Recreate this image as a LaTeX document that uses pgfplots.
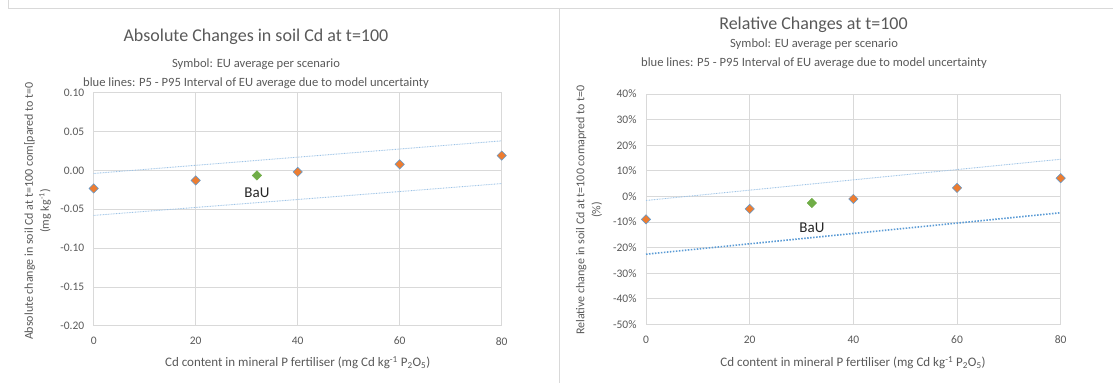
\documentclass[border=0pt]{standalone}
\usepackage{pgfplots}
\pgfplotsset{compat=1.18}
\usepackage{fontspec}
\setmainfont{Carlito}
\definecolor{txt}{HTML}{595959}
\definecolor{gridc}{HTML}{D9D9D9}
\definecolor{axc}{HTML}{BFBFBF}
\definecolor{orng}{HTML}{ED7D31}
\definecolor{bluem}{HTML}{5B9BD5}
\definecolor{bluel}{HTML}{9DC3E6}
\definecolor{grn}{HTML}{70AD47}
\pgfplotsset{
  common/.style={
    scale only axis, anchor=south west,
    xmin=0, xmax=80, xtick={0,20,...,80},
    grid=major, major grid style={gridc, line width=0.6pt},
    axis line style={gridc, line width=0.6pt},
    major tick length=0pt,
    tick label style={font=\fontsize{11.5}{13}\selectfont, text=txt},
    /pgf/number format/assume math mode=true,
    xticklabel style={yshift=-8pt},
    yticklabel style={xshift=-6pt},
    clip=false,
  },
  pts/.style={only marks, mark=square*, mark size=3.3pt, mark options={rotate=45, fill=orng, draw=bluem, line width=0.5pt}},
  bau/.style={only marks, mark=square*, mark size=3.3pt, mark options={rotate=45, fill=grn, draw=grn, line width=0.5pt}},
}
\begin{document}
\begin{tikzpicture}
\path[use as bounding box] (0pt,0pt) rectangle (1113pt,383pt);
\draw[gridc, line width=0.8pt] (8pt,383pt) -- (8pt,374.7pt) -- (1113pt,374.7pt);
\draw[gridc, line width=1.2pt] (559.3pt,374.7pt) -- (559.3pt,0pt);
% left panel
\node[text=txt, font=\fontsize{18}{20}\selectfont] at (256pt,346pt) {Absolute Changes in soil Cd at t=100};
\node[text=txt, font=\fontsize{12.6}{15}\selectfont] at (256pt,319pt) {Symbol: EU average per scenario};
\node[text=txt, font=\fontsize{12.6}{15}\selectfont] at (256pt,300pt) {blue lines: P5 - P95 Interval of EU average due to model uncertainty};
\node[text=txt, font=\fontsize{12}{16}\selectfont, rotate=90, align=center] at (37.5pt,172pt) {Absolute change in soil Cd at t=100 com[pared to t=0\\(mg kg\textsuperscript{-1})};
\node[text=txt, font=\fontsize{13}{15}\selectfont] at (297.7pt,20pt) {Cd content in mineral P fertiliser (mg Cd kg\textsuperscript{-1} P\textsubscript{2}O\textsubscript{5})};
\begin{axis}[common, at={(93.7pt,57.3pt)}, width=408pt, height=233pt,
  ymin=-0.2, ymax=0.1, ytick={-0.2,-0.15,...,0.1},
  yticklabel style={/pgf/number format/fixed, /pgf/number format/fixed zerofill, /pgf/number format/precision=2},
  ]
\addplot[bluel, line width=0.9pt, dash pattern=on 0.8pt off 0.8pt] coordinates {(0,-0.004) (80,0.038)};
\addplot[bluel, line width=0.9pt, dash pattern=on 0.8pt off 0.8pt] coordinates {(0,-0.058) (80,-0.017)};
\addplot[pts] coordinates {(0,-0.0233) (20,-0.013) (40,-0.002) (60,0.0078) (80,0.019)};
\addplot[bau] coordinates {(32,-0.0065)};
\node[font=\fontsize{15}{17}\selectfont, text=black!85] at (axis cs:32,-0.029) {BaU};
\end{axis}
% right panel
\node[text=txt, font=\fontsize{18}{20}\selectfont] at (813.5pt,358pt) {Relative Changes at t=100};
\node[text=txt, font=\fontsize{12.6}{15}\selectfont] at (814pt,339pt) {Symbol: EU average per scenario};
\node[text=txt, font=\fontsize{12.6}{15}\selectfont] at (814pt,320pt) {blue lines: P5 - P95 Interval of EU average due to model uncertainty};
\node[text=txt, font=\fontsize{12}{16}\selectfont, rotate=90, align=center] at (589pt,173pt) {Relative change in soil Cd at t=100 comapred to t=0\\(\%)};
\node[text=txt, font=\fontsize{13}{15}\selectfont] at (853pt,20pt) {Cd content in mineral P fertiliser (mg Cd kg\textsuperscript{-1} P\textsubscript{2}O\textsubscript{5})};
\begin{axis}[common, at={(646pt,58.7pt)}, width=414.7pt, height=230.3pt,
  ymin=-50, ymax=40, ytick={-50,-40,...,40},
  yticklabel={\pgfmathprintnumber{\tick}\%},
  ]
\addplot[bluel, line width=0.9pt, dash pattern=on 0.8pt off 0.8pt] coordinates {(0,-1.6) (80,14.5)};
\addplot[bluem, line width=1.6pt, dash pattern=on 1.5pt off 1.5pt] coordinates {(0,-22.6) (80,-6.4)};
\addplot[pts] coordinates {(0,-9.0) (20,-4.9) (40,-1.0) (60,3.3) (80,7.1)};
\addplot[bau] coordinates {(32,-2.6)};
\node[font=\fontsize{15}{17}\selectfont, text=black!85] at (axis cs:32,-12.1) {BaU};
\end{axis}
\end{tikzpicture}
\end{document}
